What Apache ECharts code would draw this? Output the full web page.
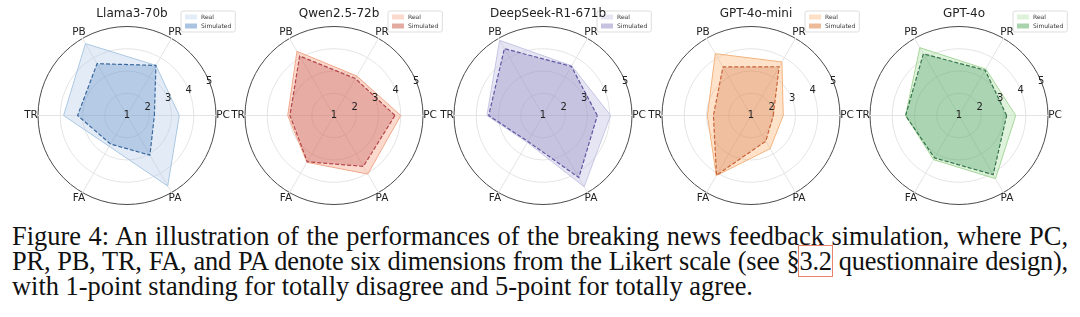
<!DOCTYPE html>
<html>
<head>
<meta charset="utf-8">
<script src="https://cdn.jsdelivr.net/npm/echarts@6/dist/echarts.min.js"></script>
<style>
  html, body { margin: 0; padding: 0; background: #fff; }
  #wrap { position: relative; width: 1080px; height: 317px; overflow: hidden; }
  #chart { position: absolute; left: 0; top: 0; width: 1080px; height: 215px; }
  #caption { position: absolute; left: 12px; top: 224px; width: 1056px;
    font-family: "Liberation Serif", "Times New Roman", serif; font-size: 26.4px;
    line-height: 25px; color: #111; }
  #caption .j { text-align: justify; text-align-last: justify; white-space: nowrap; }
  #caption .tight { word-spacing: -3px; letter-spacing: -0.2px; }
  #caption .ref { outline: 1px solid #e8836e; outline-offset: 0; }
</style>
</head>
<body>
<div id="wrap">
  <div id="chart"></div>
  <div id="caption">
    <div class="j">Figure 4: An illustration of the performances of the breaking news feedback simulation, where PC,</div>
    <div class="j tight">PR, PB, TR, FA, and PA denote six dimensions from the Likert scale (see §<span class="ref">3.2</span> questionnaire design),</div>
    <div>with 1-point standing for totally disagree and 5-point for totally agree.</div>
  </div>
</div>
<script>
// 六个维度，逆时针从右侧开始
var dims = ['PC', 'PR', 'PB', 'TR', 'FA', 'PA'];
var models = ['Llama3-70b', 'Qwen2.5-72b', 'DeepSeek-R1-671b', 'GPT-4o-mini', 'GPT-4o'];
var rTicks = [1, 2, 3, 4, 5];

// Real / Simulated scores per model, order = dims
var realLlama = [3.35, 3.6, 4.73, 3.85, 2.6, 4.66];
var simLlama = [2.23, 3.6, 3.69, 3.22, 2.48, 3.06];
var realQwen = [4.0, 3.05, 4.33, 3.08, 3.43, 4.04];
var simQwen = [3.74, 2.92, 4.09, 2.98, 3.4, 3.64];
var realDeepSeek = [4.04, 3.58, 4.9, 3.52, 2.4, 4.7];
var simDeepSeek = [3.44, 3.55, 4.47, 3.44, 2.35, 4.22];
var realMini = [2.45, 3.78, 4.21, 2.96, 4.12, 2.72];
var simMini = [2.0, 3.53, 3.52, 2.69, 4.1, 2.33];
var real4o = [3.55, 3.41, 4.52, 3.4, 3.29, 4.28];
var sim4o = [3.14, 3.35, 4.2, 3.4, 3.2, 4.07];

var realScores = [realLlama, realQwen, realDeepSeek, realMini, real4o];
var simScores = [simLlama, simQwen, simDeepSeek, simMini, sim4o];

// 配色: real面积, real边, sim面积, sim虚线, 图例real, 图例sim
var palettes = [
    {ra: 'rgba(174,199,232,0.35)', re: '#a9c8e0', sa: 'rgba(60,120,185,0.27)', se: '#3a6699', lr: '#e3edf7', ls: '#a9c3e0'},
    {ra: 'rgba(244,160,130,0.4)', re: '#f0aa8c', sa: 'rgba(190,80,80,0.33)', se: '#b2464b', lr: '#fbd9cd', ls: '#e3aaa2'},
    {ra: 'rgba(190,190,225,0.4)', re: '#c8c8e4', sa: 'rgba(117,107,177,0.28)', se: '#5e54a0', lr: '#e6e6f3', ls: '#c6c2e0'},
    {ra: 'rgba(253,174,107,0.36)', re: '#f2b480', sa: 'rgba(200,100,50,0.28)', se: '#c8643a', lr: '#fde0c5', ls: '#eebb9a'},
    {ra: 'rgba(161,217,155,0.35)', re: '#a8d79a', sa: 'rgba(65,150,90,0.33)', se: '#346e48', lr: '#def1d9', ls: '#a8d3ad'}
];

var centersX = [127, 334, 543, 751, 959];
var cy = 115.5;
var R = 89;
var font = 'DejaVu Sans';

var chart = echarts.init(document.getElementById('chart'));

var title = [], legend = [], radar = [], polar = [], angleAxis = [], radiusAxis = [], series = [];

models.forEach(function (m, i) {
    var cx = centersX[i];
    var p = palettes[i];
    title.push({
        text: m, left: cx, top: 3, textAlign: 'center',
        textStyle: {fontFamily: font, fontSize: 12, fontWeight: 'normal', color: '#222'}
    });
    legend.push({
        orient: 'vertical', left: cx + 54, top: 11, z: 1,
        icon: 'rect', itemWidth: 12, itemHeight: 5, itemGap: 3,
        padding: [3, 4], borderColor: '#dddddd', borderWidth: 1, borderRadius: 2,
        backgroundColor: 'rgba(255,255,255,0.8)',
        textStyle: {fontFamily: font, fontSize: 6, color: '#333', padding: [0, 0, 0, -1]},
        formatter: function (name) { return name.split('#')[0]; },
        data: [
            {name: 'Real#' + i, itemStyle: {color: p.lr, borderWidth: 0}},
            {name: 'Simulated#' + i, itemStyle: {color: p.ls, borderWidth: 0}}
        ],
        selectedMode: false
    });
    radar.push({
        center: [cx, cy], radius: R, startAngle: 0, shape: 'circle', splitNumber: 4, z: 3,
        indicator: dims.map(function (d) { return {name: d, min: 1, max: 5}; }),
        nameGap: 7,
        axisName: {color: '#222', fontFamily: font, fontSize: 10.5, align: 'center', verticalAlign: 'middle'},
        splitLine: {lineStyle: {color: ['#e4e4e4', '#e4e4e4', '#e4e4e4', '#e4e4e4', '#4a4a4a'], width: 1}},
        splitArea: {show: false},
        axisLine: {lineStyle: {color: '#e4e4e4', width: 1}},
        axisTick: {show: false},
        axisLabel: {show: false}
    });
    // 半径刻度标签放在 22.5° 方向
    polar.push({center: [cx, cy], radius: R});
    angleAxis.push({polarIndex: i, type: 'value', min: 0, max: 360, startAngle: 22.5, show: false});
    radiusAxis.push({
        polarIndex: i, type: 'value', min: rTicks[0], max: rTicks[rTicks.length - 1], interval: 1,
        axisLine: {show: false}, axisTick: {show: false}, splitLine: {show: false},
        axisLabel: {margin: 0, align: 'center', verticalAlign: 'middle', padding: [0, 0, 7, 0],
            fontFamily: font, fontSize: 10, color: '#222'},
        z: 10
    });
    series.push({
        type: 'radar', radarIndex: i, symbol: 'none', silent: true, z: 4,
        data: [
            {
                name: 'Real#' + i, value: realScores[i],
                lineStyle: {color: p.re, width: 1},
                areaStyle: {color: p.ra, opacity: 1},
                itemStyle: {color: p.lr}
            },
            {
                name: 'Simulated#' + i, value: simScores[i],
                lineStyle: {color: p.se, width: 1.2, type: [4, 2]},
                areaStyle: {color: p.sa, opacity: 1},
                itemStyle: {color: p.ls}
            }
        ]
    });
});

chart.setOption({
    animation: false,
    title: title,
    legend: legend,
    radar: radar,
    polar: polar,
    angleAxis: angleAxis,
    radiusAxis: radiusAxis,
    series: series
});
</script>
</body>
</html>
